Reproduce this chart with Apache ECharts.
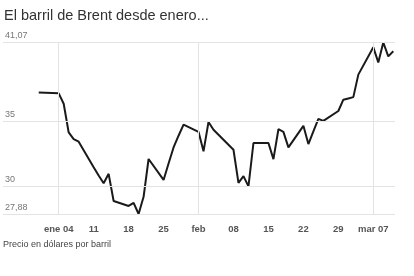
<!DOCTYPE html>
<html>
<head>
<meta charset="utf-8">
<script src="https://cdn.jsdelivr.net/npm/echarts@6/dist/echarts.min.js"></script>
<style>html,body{margin:0;padding:0;background:#fff}#c{width:414px;height:276px}</style>
</head>
<body>
<div id="c"></div>
<script>
// Data (Brent, USD per barrel)
var dates = ["2015-12-31","2016-01-04","2016-01-05","2016-01-06","2016-01-07","2016-01-08",
  "2016-01-11","2016-01-12","2016-01-13","2016-01-14","2016-01-15",
  "2016-01-18","2016-01-19","2016-01-20","2016-01-21","2016-01-22",
  "2016-01-25","2016-01-26","2016-01-27","2016-01-28","2016-01-29",
  "2016-02-01","2016-02-02","2016-02-03","2016-02-04","2016-02-05",
  "2016-02-08","2016-02-09","2016-02-10","2016-02-11","2016-02-12",
  "2016-02-15","2016-02-16","2016-02-17","2016-02-18","2016-02-19",
  "2016-02-22","2016-02-23","2016-02-24","2016-02-25","2016-02-26",
  "2016-02-29","2016-03-01","2016-03-02","2016-03-03","2016-03-04",
  "2016-03-07","2016-03-08","2016-03-09","2016-03-10","2016-03-11"];
var prices = [37.22,37.16,36.36,34.15,33.64,33.44,
  31.47,30.84,30.25,30.97,28.88,
  28.50,28.73,27.88,29.20,32.11,
  30.50,31.76,33.00,33.90,34.75,
  34.20,32.70,34.96,34.36,33.98,
  32.82,30.28,30.79,30.00,33.34,
  33.34,32.10,34.40,34.20,33.00,
  34.66,33.26,34.24,35.20,35.04,
  35.80,36.67,36.77,36.87,38.60,
  40.70,39.54,41.07,40.00,40.40];
var xTickDates = ["2016-01-04","2016-01-11","2016-01-18","2016-01-25","2016-02-01",
  "2016-02-08","2016-02-15","2016-02-22","2016-02-29","2016-03-07"];
var xTickLabels = ["ene 04","11","18","25","feb","08","15","22","29","mar 07"];
var xGridDates = ["2016-01-04","2016-02-01","2016-03-07"];
var yTicks = [27.88, 30, 35, 41.07];

var base = Date.UTC(2016,0,4);
function dayOf(s){var p=s.split('-');return (Date.UTC(+p[0],+p[1]-1,+p[2])-base)/86400000;}
var seriesData = dates.map(function(d,i){return [dayOf(d), prices[i]];});
var xTickDays = xTickDates.map(dayOf);
var labelMap = {};
xTickDays.forEach(function(d,i){labelMap[d]=xTickLabels[i];});

var chart = echarts.init(document.getElementById('c'));
var grid = '#e3e3e3';
chart.setOption({
  animation:false,
  textStyle:{fontFamily:'Liberation Sans, Arial, sans-serif'},
  title:[
    {text:'El barril de Brent desde enero...', left:4, top:8, padding:0,
     textStyle:{fontSize:14.5, fontWeight:'normal', color:'#333', fontFamily:'Liberation Sans'}},
    {text:'Precio en dólares por barril', left:3, top:240, padding:0,
     textStyle:{fontSize:9, fontWeight:'normal', color:'#444', fontFamily:'Liberation Sans'}}
  ],
  grid:{left:3, right:19, top:42.5, bottom:62, containLabel:false},
  xAxis:{type:'value', min:-11.154, max:67.345,
    axisLine:{show:false}, axisTick:{show:false}, splitLine:{show:false},
    axisLabel:{customValues:xTickDays, margin:10, fontSize:9.5, fontWeight:'bold', color:'#555',
      formatter:function(v){return labelMap[v]||'';}}},
  yAxis:{type:'value', min:27.88, max:41.07,
    axisLine:{show:false}, axisTick:{show:false}, splitLine:{show:false},
    axisLabel:{customValues:yTicks, inside:true, margin:2, verticalAlign:'bottom',
      padding:[0,0,2,0], fontSize:9, color:'#777',
      formatter:function(v){return String(v).replace('.',',');}}},
  series:[
    {type:'line', data:[], z:1, silent:true,
     markLine:{silent:true, symbol:'none', label:{show:false},
       lineStyle:{color:grid, width:1, type:'solid'},
       data: yTicks.map(function(v){return {yAxis:v};}).concat(
             xGridDates.map(function(d){return {xAxis:dayOf(d)};}))}},
    {type:'line', data:seriesData, z:3, showSymbol:false, symbol:'none',
     lineStyle:{color:'#1a1a1a', width:2}}
  ]
});
</script>
</body>
</html>
